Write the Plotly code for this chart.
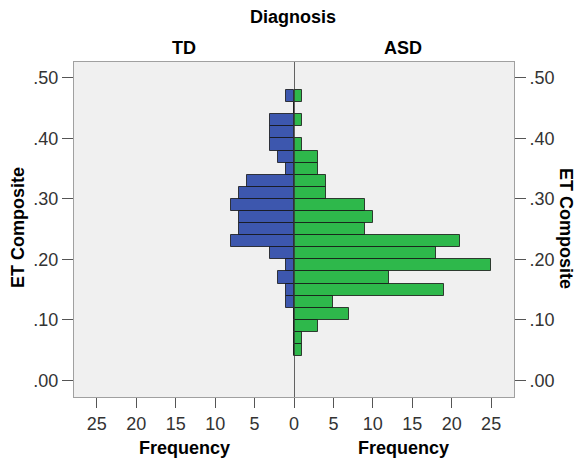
import plotly.graph_objects as go

# Bin centres of ET Composite (bin width 0.02)
bins = [0.05, 0.07, 0.09, 0.11, 0.13, 0.15, 0.17, 0.19, 0.21, 0.23, 0.25,
        0.27, 0.29, 0.31, 0.33, 0.35, 0.37, 0.39, 0.41, 0.43, 0.45, 0.47]
td_freq = [0, 0, 0, 0, 1, 1, 2, 1, 3, 8, 7, 7, 8, 7, 6, 1, 2, 3, 3, 3, 0, 1]
asd_freq = [1, 1, 3, 7, 5, 19, 12, 25, 18, 21, 9, 10, 9, 4, 4, 3, 3, 1, 0, 1, 0, 1]
bin_width = 0.02

x_ticks_left = [5, 10, 15, 20, 25]
x_ticks_right = [0, 5, 10, 15, 20, 25]
y_ticks = [0.0, 0.1, 0.2, 0.3, 0.4, 0.5]
y_ticktext = [".00", ".10", ".20", ".30", ".40", ".50"]

FONT = "Liberation Sans, Arial, sans-serif"
XMAX = 27.9
YRANGE = [-0.0276, 0.5264]
FRAME = "#a0a0a0"
TICKC = "#555555"

ML, MR, MT, MB = 74, 65, 62, 64
W, H = 579, 461

fig = go.Figure()
fig.add_trace(go.Bar(
    y=bins, x=td_freq, orientation="h", width=bin_width,
    marker=dict(color="#3d57ae", line=dict(color="rgba(20,20,20,0.8)", width=1)),
    xaxis="x", yaxis="y", name="TD", showlegend=False))
fig.add_trace(go.Bar(
    y=bins, x=asd_freq, orientation="h", width=bin_width,
    marker=dict(color="#2eb84b", line=dict(color="rgba(20,20,20,0.8)", width=1)),
    xaxis="x2", yaxis="y2", name="ASD", showlegend=False))

tickfont = dict(family=FONT, size=18, color="#333333")
titlefont = dict(family=FONT, size=18, color="#000000")

plot_h = H - MT - MB
plot_w = W - ML - MR
def py(pix_y):
    return (H - MB - pix_y) / plot_h
def px(pix_x):
    return (pix_x - ML) / plot_w

fig.update_layout(
    width=W, height=H,
    margin=dict(l=ML, r=MR, t=MT, b=MB, autoexpand=False),
    paper_bgcolor="white", plot_bgcolor="#f0f0f0",
    bargap=0,
    xaxis=dict(domain=[0, 0.5], range=[XMAX, 0], tickvals=x_ticks_left,
               ticks="outside", ticklen=10, tickcolor=TICKC, tickfont=tickfont,
               showline=True, linecolor=FRAME, mirror=True, showgrid=False,
               zeroline=False, anchor="y", automargin=False),
    xaxis2=dict(domain=[0.5, 1], range=[0, XMAX], tickvals=x_ticks_right,
                ticks="outside", ticklen=10, tickcolor=TICKC, tickfont=tickfont,
                showline=True, linecolor=FRAME, mirror=True, showgrid=False,
                zeroline=False, anchor="y2", automargin=False),
    yaxis=dict(range=YRANGE, tickvals=y_ticks, ticktext=y_ticktext,
               ticks="outside", ticklen=11, tickcolor=TICKC, tickfont=tickfont,
               showline=True, linecolor=FRAME, showgrid=False, zeroline=False,
               anchor="x", automargin=False),
    yaxis2=dict(range=YRANGE, tickvals=y_ticks, ticktext=y_ticktext,
                ticks="outside", ticklen=11, tickcolor=TICKC, tickfont=tickfont,
                showline=True, linecolor=FRAME, showgrid=False, zeroline=False,
                overlaying="y", side="right", anchor="x2", automargin=False),
    shapes=[dict(type="line", xref="x2", yref="paper", x0=0, x1=0, y0=0, y1=1,
                 line=dict(color="#333333", width=1.5))],
    annotations=[
        dict(text="<b>Diagnosis</b>", x=px(293), y=py(17)),
        dict(text="<b>TD</b>", x=px(184), y=py(48)),
        dict(text="<b>ASD</b>", x=px(403), y=py(48)),
        dict(text="<b>Frequency</b>", x=px(184), y=py(448)),
        dict(text="<b>Frequency</b>", x=px(403), y=py(448)),
        dict(text="<b>ET Composite</b>", x=px(18), y=py(228), textangle=-90),
        dict(text="<b>ET Composite</b>", x=px(566), y=py(228), textangle=90),
    ],
)
for a in fig.layout.annotations:
    a.update(xref="paper", yref="paper", showarrow=False, font=titlefont,
             xanchor="center", yanchor="middle")

fig.write_html("out.html",
               config={"displayModeBar": False},
               post_script="document.body.style.margin='0';"
                           "document.body.style.overflow='hidden';")
